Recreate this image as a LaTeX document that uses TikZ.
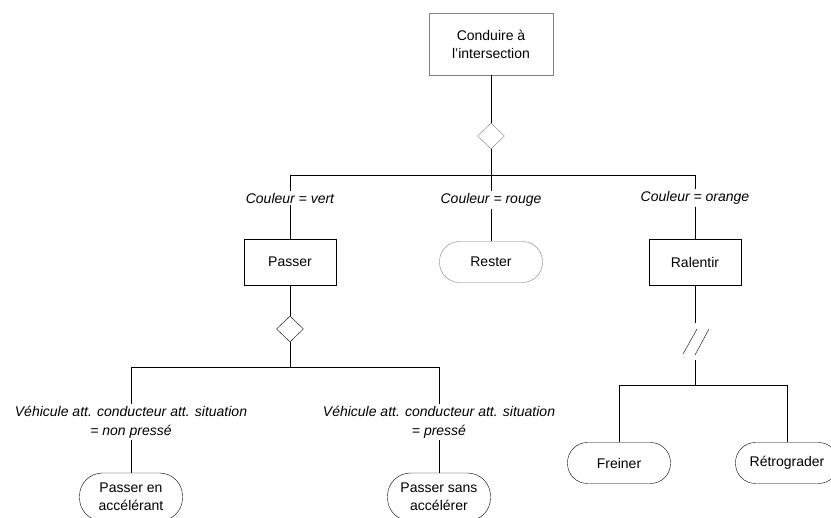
\documentclass[tikz,border=0pt]{standalone}
\usepackage{fontspec}
\setmainfont{Liberation Sans}
\usetikzlibrary{shapes.geometric}

\begin{document}
\begin{tikzpicture}[x=1pt,y=-1pt,
    every node/.style={font=\fontsize{14}{18}\selectfont, align=center},
    act/.style={draw, rectangle, minimum width=92pt, minimum height=46pt, inner sep=2pt},
    leaf/.style={draw, rectangle, rounded corners=20pt, minimum width=103pt, minimum height=41pt, inner sep=2pt},
    choice/.style={draw, diamond, minimum width=27pt, minimum height=26pt, inner sep=0pt},
    cond/.style={inner sep=2pt, font=\fontsize{14}{19}\selectfont\itshape}]
            \useasboundingbox (0,0) rectangle (831,518);

            \node[act, draw=gray, minimum width=124pt, minimum height=62pt] (drive) at (491,44) {Conduire à\\l'intersection};
            \node[choice, draw=gray] (colour) at (491,136) {};

            \coordinate (b1l) at (290,175);
            \coordinate (b1m) at (491,175);
            \coordinate (b1r) at (695,175);

            \node[cond] (vert) at (290,198) {Couleur = vert};
            \node[cond] (rouge) at (491,200) {Couleur = rouge};
            \node[cond] (orange) at (695,198) {Couleur = orange};

            \node[act] (pass) at (290,262) {Passer};
            \node[leaf, draw=gray] (stay) at (491,262) {Rester};
            \node[act] (slow) at (695,262) {Ralentir};

            \node[choice] (hurry) at (290,329) {};
            \coordinate (b2l) at (131,367);
            \coordinate (b2m) at (290,367);
            \coordinate (b2r) at (439,367);

            \node[cond] (calm) at (131,422) {Véhicule att. conducteur att. situation\\= non pressé};
            \node[cond] (rush) at (439,422) {Véhicule att. conducteur att. situation\\= pressé};

            \node[leaf, rounded corners=23pt, minimum height=48pt] (accel) at (131,497) {Passer en\\accélérant};
            \node[leaf, rounded corners=23pt, minimum height=48pt] (noaccel) at (439,497) {Passer sans\\accélérer};

            \coordinate (cut1) at (695,323);
            \coordinate (cut2) at (695,360);
            \coordinate (b3l) at (619,385);
            \coordinate (b3m) at (695,385);
            \coordinate (b3r) at (787,385);

            \node[leaf] (brake) at (619,463) {Freiner};
            \node[leaf] (down) at (787,463) {Rétrograder};

            \draw (drive)--(colour);
            \draw (colour)--(b1m);
            \draw (b1l)--(b1r);
            \draw (b1l)--(vert);
            \draw (vert)--(pass);
            \draw (b1m)--(rouge);
            \draw (rouge)--(stay);
            \draw (b1r)--(orange);
            \draw (orange)--(slow);

            \draw (pass)--(hurry);
            \draw (hurry)--(b2m);
            \draw (b2l)--(b2r);
            \draw (b2l)--(calm);
            \draw (calm)--(accel);
            \draw (b2r)--(rush);
            \draw (rush)--(noaccel);

            \draw (slow)--(cut1);
            \draw (683,354)--(697,329);
            \draw (695,355)--(709,329);
            \draw (cut2)--(b3m);
            \draw (b3l)--(b3r);
            \draw (b3l)--(brake);
            \draw (b3r)--(down);
        \end{tikzpicture}
\end{document}
